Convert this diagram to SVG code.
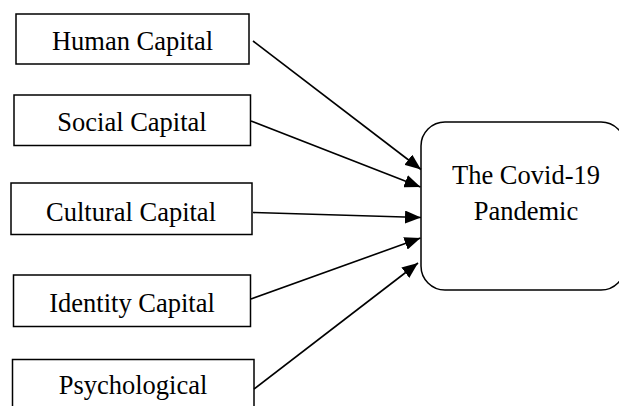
<svg xmlns="http://www.w3.org/2000/svg" width="619" height="406" viewBox="0 0 619 406">
  <defs>
    <style>
      .box { fill: #ffffff; stroke: #000000; stroke-width: 1.5; }
      .lbl { font-family: "Liberation Serif", "Times New Roman", serif; font-size: 26.5px; fill: #000000; text-anchor: middle; }
      .edge { stroke: #000000; stroke-width: 1.6; fill: none; marker-end: url(#arrow); }
    </style>
    <marker id="arrow" markerUnits="userSpaceOnUse" markerWidth="16" markerHeight="13" refX="16" refY="6.5" orient="auto">
      <path d="M0,0 L16,6.5 L0,13 Z" fill="#000000"/>
    </marker>
  </defs>
  <rect width="619" height="406" fill="#ffffff"/>

  <g id="human-capital">
    <rect class="box" x="16" y="14" width="233" height="50"/>
    <text class="lbl" x="132.5" y="50">Human Capital</text>
  </g>
  <g id="social-capital">
    <rect class="box" x="14" y="95" width="236.5" height="50.5"/>
    <text class="lbl" x="132" y="131">Social Capital</text>
  </g>
  <g id="cultural-capital">
    <rect class="box" x="11" y="183" width="241" height="51.5"/>
    <text class="lbl" x="131" y="220.5">Cultural Capital</text>
  </g>
  <g id="identity-capital">
    <rect class="box" x="13.5" y="275" width="237" height="51.5"/>
    <text class="lbl" x="132" y="311.5">Identity Capital</text>
  </g>
  <g id="psychological-capital">
    <rect class="box" x="12.5" y="359.5" width="241.5" height="60"/>
    <text class="lbl" x="133" y="394">Psychological</text>
  </g>
  <g id="covid-pandemic">
    <rect class="box" x="421" y="122" width="204" height="168" rx="24" ry="24"/>
    <text class="lbl" x="526" y="183.5">The Covid-19</text>
    <text class="lbl" x="526" y="220">Pandemic</text>
  </g>

  <g id="connectors">
    <line class="edge" x1="253" y1="41" x2="421" y2="169.5"/>
    <line class="edge" x1="251" y1="121" x2="420.5" y2="187"/>
    <line class="edge" x1="253" y1="212.5" x2="421" y2="217.5"/>
    <line class="edge" x1="251" y1="299" x2="420.5" y2="238"/>
    <line class="edge" x1="254" y1="389" x2="418" y2="263"/>
  </g>
</svg>
